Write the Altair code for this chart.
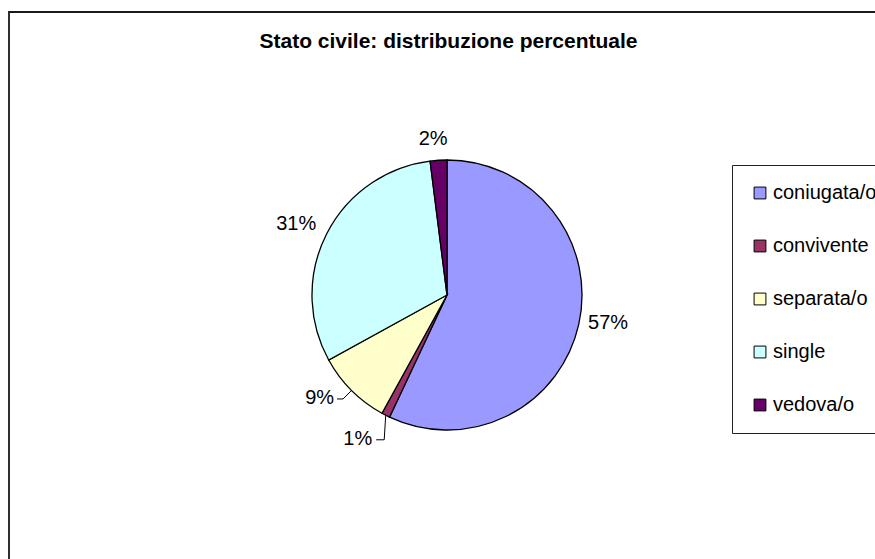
import altair as alt
import pandas as pd

# ---- data ----
categories = ["coniugata/o", "convivente", "separata/o", "single", "vedova/o"]
percentages = [57, 1, 9, 31, 2]
colors = ["#9999FF", "#993366", "#FFFFCC", "#CCFFFF", "#660066"]
title_text = "Stato civile: distribuzione percentuale"

df = pd.DataFrame({
    "categoria": categories,
    "pct": percentages,
    "ordine": list(range(len(categories))),
})
df["etichetta"] = df["pct"].astype(str) + "%"

# ---- layout constants ----
W, H = 875, 559
CX, CY, R = 447, 295, 135
FONT = "Liberation Sans"

base = alt.Chart(df)

pie = base.mark_arc(outerRadius=R, stroke="black", strokeWidth=1.3).encode(
    theta=alt.Theta("pct:Q", stack=True),
    order=alt.Order("ordine:Q"),
    color=alt.Color(
        "categoria:N",
        scale=alt.Scale(domain=categories, range=colors),
        legend=alt.Legend(
            title=None, orient="none", legendX=732, legendY=165,
            symbolType="square", symbolSize=140, symbolStrokeColor="black",
            symbolStrokeWidth=1, labelFont=FONT, labelFontSize=20,
            labelColor="black", labelOffset=3, rowPadding=33,
            padding=18, strokeColor="#222",
            fillColor="white", labelLimit=300,
        ),
    ),
    x=alt.value(CX),
    y=alt.value(CY),
)


def polar_label(cat, radius, dx=0, dy=0):
    return base.mark_text(
        radius=radius, dx=dx, dy=dy, font=FONT, fontSize=20, color="black",
        align="center", baseline="middle",
    ).encode(
        theta=alt.Theta("pct:Q", stack=True),
        order=alt.Order("ordine:Q"),
        text=alt.condition(alt.datum.categoria == cat, alt.Text("etichetta:N"), alt.value("")),
        x=alt.value(CX),
        y=alt.value(CY),
    )


geo = (
    base.transform_joinaggregate(total="sum(pct)")
    .transform_window(cum="sum(pct)", sort=[alt.SortField("ordine")], frame=[None, 0])
    .transform_calculate(
        mid="(datum.cum - datum.pct / 2) / datum.total * 2 * PI",
        ex=f"{CX} + {R} * sin(datum.mid)",
        ey=f"{CY} - {R} * cos(datum.mid)",
    )
)


def leader_label(cat, ox, oy, run, gap):
    g = geo.transform_filter(alt.datum.categoria == cat).transform_calculate(
        bx=f"datum.ex + ({ox})",
        by=f"datum.ey + ({oy})",
    ).transform_calculate(
        lx=f"datum.bx - {run}",
        tx=f"datum.bx - {run} - {gap}",
    )
    seg1 = g.mark_rule(color="black", strokeWidth=1).encode(
        x=alt.X("ex:Q", scale=None, axis=None),
        y=alt.Y("ey:Q", scale=None, axis=None),
        x2="bx:Q",
        y2="by:Q",
    )
    seg2 = g.mark_rule(color="black", strokeWidth=1).encode(
        x=alt.X("bx:Q", scale=None, axis=None),
        y=alt.Y("by:Q", scale=None, axis=None),
        x2="lx:Q",
        y2="by:Q",
    )
    txt = g.mark_text(font=FONT, fontSize=20, color="black", align="right",
                      baseline="middle", dy=-1).encode(
        x=alt.X("tx:Q", scale=None, axis=None),
        y=alt.Y("by:Q", scale=None, axis=None),
        text="etichetta:N",
    )
    return seg1 + seg2 + txt


frame_df = pd.DataFrame({"k": [0]})
frame = alt.Chart(frame_df).mark_rect(
    fillOpacity=0, stroke="#1a1a1a", strokeWidth=1.8
).encode(
    x=alt.value(9), y=alt.value(12), x2=alt.value(W + 40), y2=alt.value(H + 40)
)

title = alt.Chart(frame_df).mark_text(
    text=title_text, font=FONT, fontSize=21, fontWeight="bold", color="black",
    align="center", baseline="alphabetic",
).encode(x=alt.value(448.5), y=alt.value(48))

chart = alt.layer(
    frame,
    title,
    pie,
    polar_label("coniugata/o", 163, dx=2, dy=-8),
    polar_label("single", 167, dx=-2, dy=5),
    polar_label("vedova/o", 156, dx=-4, dy=0),
    leader_label("separata/o", -8.5, 8.5, 6, 3),
    leader_label("convivente", -1.5, 24.5, 8, 4),
).properties(
    width=W, height=H,
    autosize=alt.AutoSizeParams(type="none"),
    padding=0,
    background="white",
).configure_view(stroke=None)

chart.save("out.html", embed_options={"renderer": "svg", "actions": False})
